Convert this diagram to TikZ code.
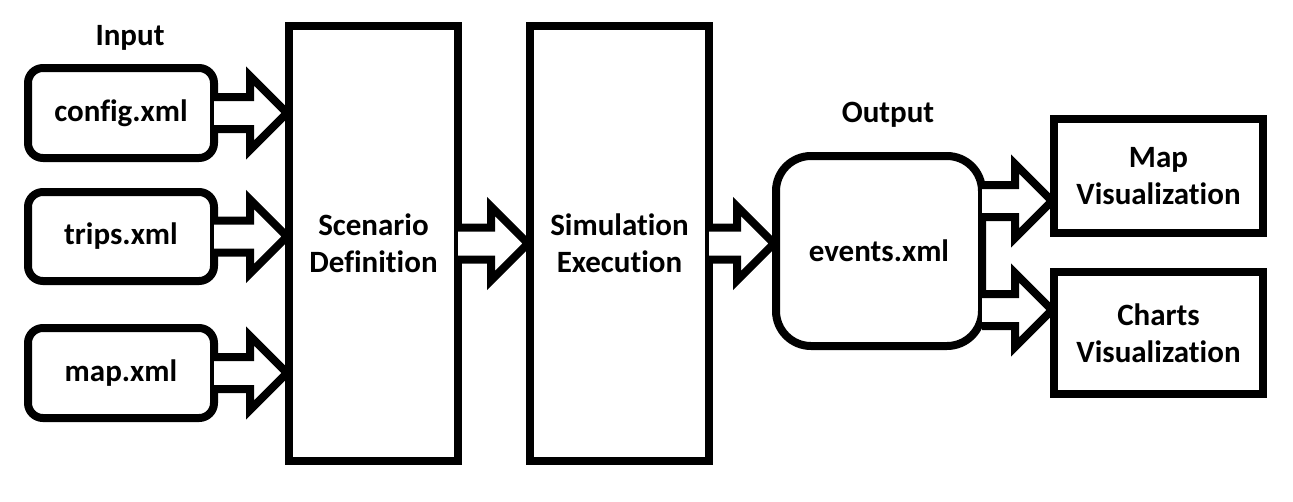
\documentclass[tikz,border=0pt]{standalone}
\usepackage{fontspec}
\setmainfont{Carlito}[Ligatures=NoCommon]
\usetikzlibrary{calc}
\tikzset{
  lbl/.style={font=\fontsize{31}{37}\selectfont\bfseries, align=center, inner sep=0pt},
  filebox/.style={lbl, draw, line width=8pt, rounded corners=15pt, minimum width=186pt, minimum height=90pt},
  stagebox/.style={lbl, draw, line width=8pt, minimum height=435pt},
  outbox/.style={lbl, draw, line width=8pt, rounded corners=35pt, minimum width=206pt, minimum height=190pt},
  visbox/.style={lbl, draw, line width=8pt, minimum width=209pt},
  blockarrow/.style={draw, line width=8pt, fill=white, line join=miter, miter limit=10,
    to path={let \p1=(\tikztostart), \p2=(\tikztotarget) in
      ({\x1-4pt},{\y1+16pt}) -- ({\x2-35pt},{\y1+16pt}) -- ({\x2-35pt},{\y1+37pt}) -- ({\x2+2pt},{\y1})
      -- ({\x2-35pt},{\y1-37pt}) -- ({\x2-35pt},{\y1-16pt}) -- ({\x1-4pt},{\y1-16pt})}}
}
\begin{document}
\begin{tikzpicture}[x=1pt,y=-1pt]
\useasboundingbox[fill=white] (0,0) rectangle (1293,501);
\node[lbl] (input) at (130,38) {Input};
\node[lbl] (output) at (888,115) {Output};
\node[filebox] (config) at (121,113) {config.xml};
\node[filebox, minimum height=89pt] (trips) at (121,236.5) {trips.xml};
\node[filebox] (mapx) at (121,373) {map.xml};
\node[stagebox, minimum width=169pt] (scen) at (373.5,243.5) {Scenario\\Definition};
\node[stagebox, minimum width=179pt] (sim) at (619.5,243.5) {Simulation\\Execution};
\node[outbox] (events) at (879,251) {events.xml};
\node[visbox, minimum height=114pt] (mapvis) at (1158.5,176) {Map\\Visualization};
\node[visbox, minimum height=122pt] (charts) at (1158.5,333) {Charts\\Visualization};
\coordinate (e1) at ($(events.east)+(0,-50)$);
\coordinate (e2) at ($(events.east)+(0,59)$);
\draw[blockarrow] (config.east) to (scen.west |- config.east);
\draw[blockarrow] (trips.east) to (scen.west |- trips.east);
\draw[blockarrow] (mapx.east) to (scen.west |- mapx.east);
\draw[blockarrow] (scen.east) to (sim.west);
\draw[blockarrow] (sim.east) to (events.west);
\draw[blockarrow] (e1) to (mapvis.west |- e1);
\draw[blockarrow] (e2) to (charts.west |- e2);
\end{tikzpicture}
\end{document}
